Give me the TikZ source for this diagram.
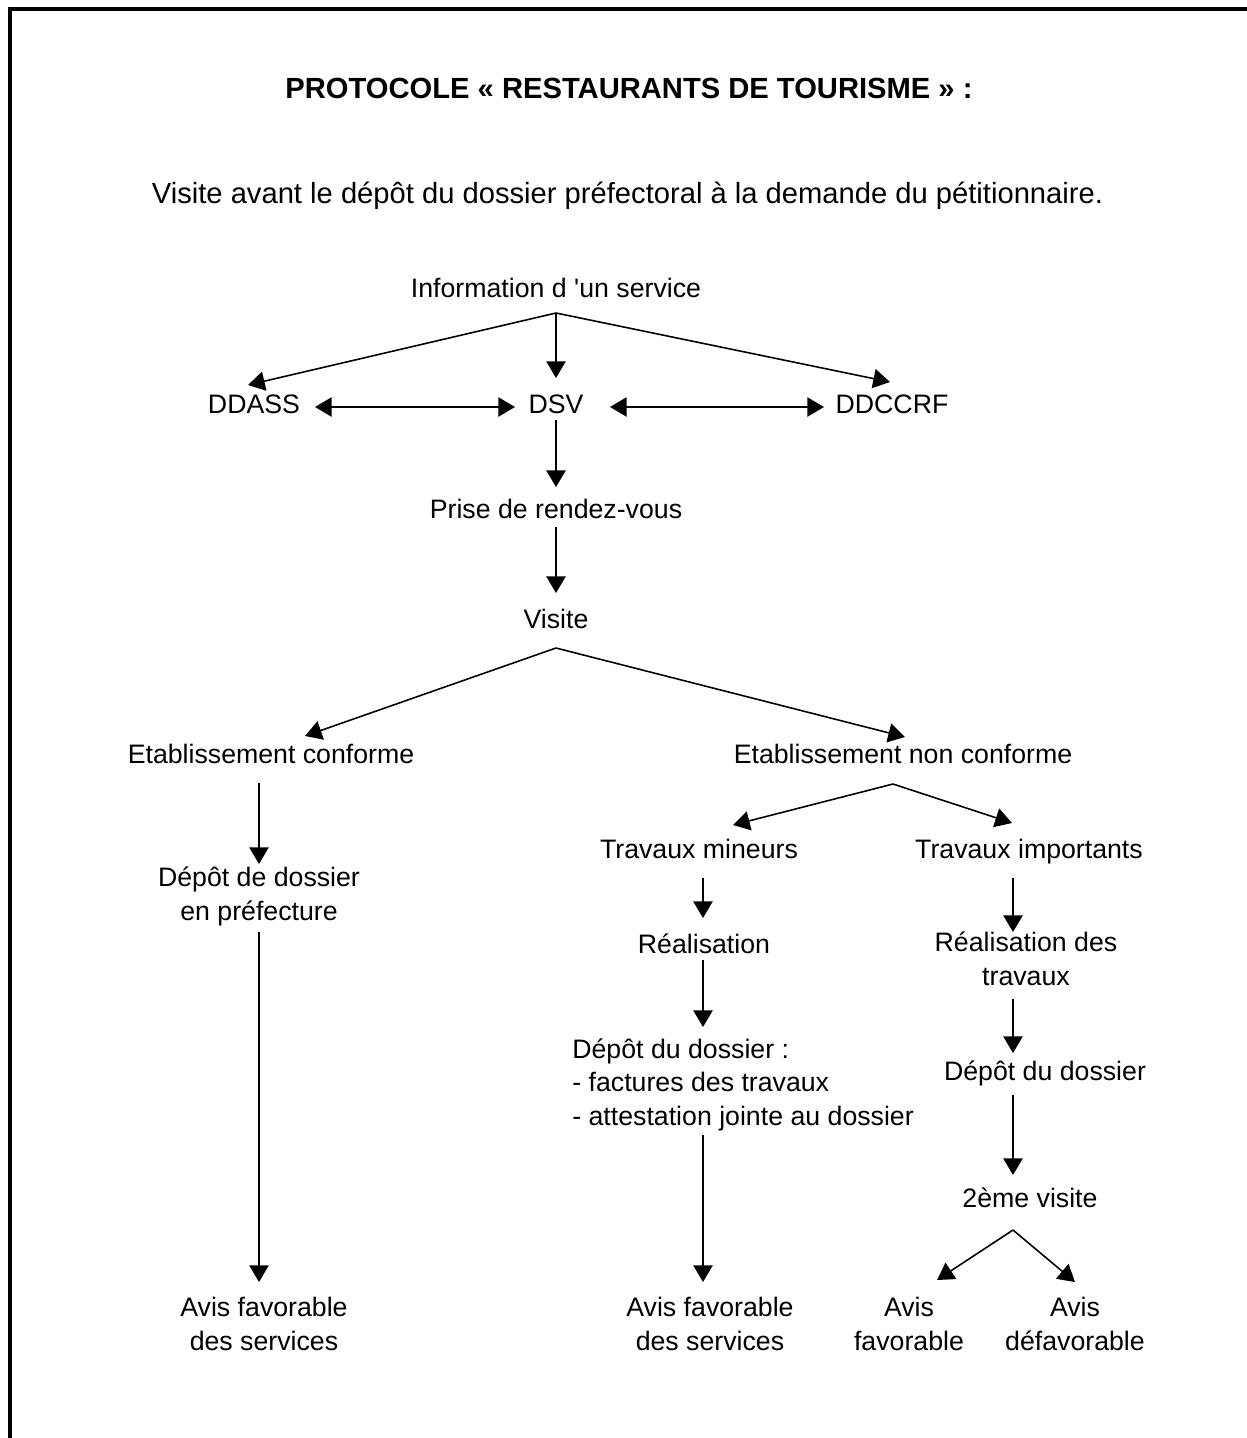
\documentclass[tikz,border=0pt]{standalone}
\usepackage{fontspec}
\setmainfont{Liberation Sans}[Ligatures=TeXOff]
\usetikzlibrary{arrows.meta,calc}

\begin{document}
\begin{tikzpicture}[x=0.02cm,y=-0.02cm,
    txt/.style={font=\fontsize{15.2}{19}\selectfont,inner sep=0pt,anchor=base,align=center},
    fl/.style={-{Triangle[length=9.5pt,width=11pt]},line width=0.9pt},
    dfl/.style={{Triangle[length=9.5pt,width=11pt]}-{Triangle[length=9.5pt,width=11pt]},line width=0.9pt}]
    \useasboundingbox (0,0) rectangle (1247,1438);
    \draw[line width=1.9pt] (10,1438) -- (10,9) -- (1247,9);
    \node[font=\bfseries\fontsize{16.6}{20}\selectfont,inner sep=0pt,anchor=base] (titre) at (629,98.5) {PROTOCOLE « RESTAURANTS DE TOURISME » :};
    \node[font=\fontsize{16.6}{20}\selectfont,inner sep=0pt,anchor=base] (soustitre) at (627.5,203.5) {Visite avant le dépôt du dossier préfectoral à la demande du pétitionnaire.};
    \node[txt] (info) at (556,297) {Information d 'un service};
    \node[txt] (ddass) at (254,413) {DDASS};
    \node[txt] (dsv) at (556,413) {DSV};
    \node[txt] (ddccrf) at (892,413) {DDCCRF};
    \node[txt] (prise) at (556,518) {Prise de rendez-vous};
    \node[txt] (visite) at (556,628) {Visite};
    \node[txt] (conf) at (271,763) {Etablissement conforme};
    \node[txt] (nonconf) at (903,763) {Etablissement non conforme};
    \node[txt] (mineurs) at (699,858) {Travaux mineurs};
    \node[txt] (importants) at (1029,858) {Travaux importants};
    \node[txt] (depotpref) at (259,920) {Dépôt de dossier\\en préfecture};
    \node[txt] (real) at (704,953) {Réalisation};
    \node[txt] (realtrav) at (1026,985) {Réalisation des\\travaux};
    \node[txt,anchor=base west,align=left] (depotlist) at (572,1125) {Dépôt du dossier :\\- factures des travaux\\- attestation jointe au dossier};
    \node[txt] (depotdos) at (1045,1080) {Dépôt du dossier};
    \node[txt] (visite2) at (1030,1207) {2ème visite};
    \node[txt] (avis1) at (264,1350) {Avis favorable\\des services};
    \node[txt] (avis2) at (710,1350) {Avis favorable\\des services};
    \node[txt] (avisfav) at (909,1350) {Avis\\favorable};
    \node[txt] (avisdef) at (1075,1350) {Avis\\défavorable};
    \draw[fl] ($(info.base)+(0,16)$) -- ($(ddass.base)+(-6,-28)$);
    \draw[fl] ($(info.base)+(0,16)$) -- ($(dsv.base)+(0,-35)$);
    \draw[fl] ($(info.base)+(0,16)$) -- ($(ddccrf.base)+(-2,-31)$);
    \draw[dfl] ($(ddass.base)+(61,-6)$) -- ($(dsv.base)+(-41,-6)$);
    \draw[dfl] ($(dsv.base)+(54,-6)$) -- ($(ddccrf.base)+(-68,-6)$);
    \draw[fl] ($(dsv.base)+(0,7)$) -- ($(prise.base)+(0,-31)$);
    \draw[fl] ($(prise.base)+(0,9)$) -- ($(visite.base)+(0,-35)$);
    \draw[fl] ($(visite.base)+(0,20)$) -- ($(conf.base)+(34,-27)$);
    \draw[fl] ($(visite.base)+(0,20)$) -- ($(nonconf.base)+(2,-26)$);
    \draw[fl] ($(depotpref.base |- conf.base)+(0,20)$) -- ($(depotpref.base)+(0,-56)$);
    \draw[fl] ($(depotpref.base)+(0,12)$) -- ($(avis1.base)+(-5,-68)$);
    \draw[fl] ($(nonconf.base)+(-10,21)$) -- ($(mineurs.base)+(34,-33)$);
    \draw[fl] ($(nonconf.base)+(-10,21)$) -- ($(importants.base)+(-17,-35)$);
    \draw[fl] ($(real.base |- mineurs.base)+(-1,20)$) -- ($(real.base)+(-1,-35)$);
    \draw[fl] ($(real.base)+(-1,7)$) -- ($(real.base |- depotlist.base)+(-1,-98)$);
    \draw[fl] ($(real.base |- depotlist.base)+(-1,10)$) -- ($(avis2.base)+(-7,-68)$);
    \draw[fl] ($(importants.base)+(-16,20)$) -- ($(realtrav.base)+(-13,-53)$);
    \draw[fl] ($(realtrav.base)+(-13,14)$) -- ($(depotdos.base)+(-32,-27)$);
    \draw[fl] ($(depotdos.base)+(-32,15)$) -- ($(visite2.base)+(-17,-32)$);
    \draw[fl] ($(visite2.base)+(-17,23)$) -- ($(avisfav.base)+(28,-70)$);
    \draw[fl] ($(visite2.base)+(-17,23)$) -- ($(avisdef.base)+(0,-68)$);
\end{tikzpicture}
\end{document}
